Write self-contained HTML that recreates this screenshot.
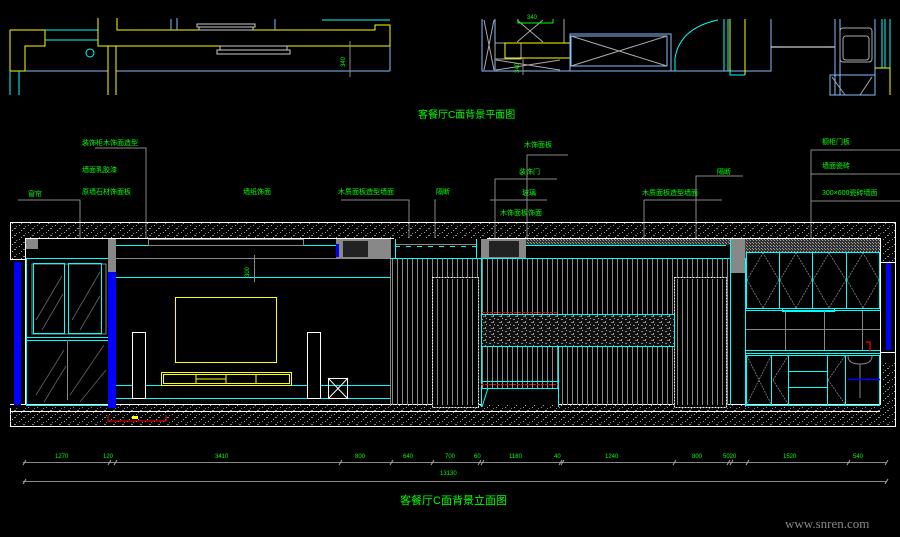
<!DOCTYPE html>
<html><head><meta charset="utf-8"><style>
html,body{margin:0;padding:0;background:#000;}
svg{display:block}
.g{fill:#00ff00;font-family:"Liberation Sans","Noto Sans CJK SC",sans-serif;font-size:7px;}
.d{fill:#00ff00;font-family:"Liberation Sans",sans-serif;font-size:6px;}
</style></head><body>
<svg width="900" height="537" viewBox="0 0 900 537" xmlns="http://www.w3.org/2000/svg">
<defs>
<pattern id="dots" width="9" height="7" patternUnits="userSpaceOnUse">
<rect x="1" y="1" width="1" height="1" fill="#999"/><rect x="5" y="4" width="2" height="1" fill="#888"/><rect x="3" y="6" width="1" height="1" fill="#aaa"/><rect x="7" y="2" width="1" height="1" fill="#777"/>
</pattern>
<pattern id="stripe" width="5" height="10" patternUnits="userSpaceOnUse">
<rect x="2" y="0" width="1" height="10" fill="#8a8a8a"/>
</pattern>
<pattern id="stone" width="8" height="6" patternUnits="userSpaceOnUse">
<rect x="0" y="0" width="8" height="6" fill="#111"/><rect x="1" y="1" width="2" height="1" fill="#888"/><rect x="5" y="3" width="1" height="2" fill="#999"/><rect x="3" y="4" width="2" height="1" fill="#777"/><rect x="6" y="0" width="1" height="1" fill="#aaa"/>
</pattern>
<pattern id="xh" width="3" height="3" patternUnits="userSpaceOnUse">
<rect width="3" height="3" fill="#333"/><rect x="0" y="0" width="1" height="1" fill="#999"/><rect x="2" y="2" width="1" height="1" fill="#999"/>
</pattern>
</defs>
<rect width="900" height="537" fill="#000"/>

<!-- top plan left -->
<g fill="none" stroke-width="1">
<polyline points="10,30 45,30 45,46 25,46 25,71 10,71 10,30" stroke="#ffff00"/>
<line x1="45" y1="30" x2="98" y2="30" stroke="#00ffff"/>
<line x1="45" y1="40" x2="98" y2="40" stroke="#00ffff"/>
<polyline points="98,18 98,46 390,46 390,25 375,25 375,30 117,30 117,18" stroke="#ffff00"/>
<line x1="322" y1="20" x2="390" y2="20" stroke="#00ffff"/>
<line x1="25" y1="71" x2="108" y2="71" stroke="#88bbff"/>
<line x1="116" y1="71" x2="390" y2="71" stroke="#88bbff"/>
<line x1="390" y1="46" x2="390" y2="71" stroke="#88bbff"/>
<line x1="108" y1="46" x2="108" y2="95" stroke="#ffff00"/>
<line x1="116" y1="46" x2="116" y2="95" stroke="#ffff00"/>
<line x1="10" y1="71" x2="10" y2="95" stroke="#00ffff"/>
<line x1="19" y1="71" x2="19" y2="95" stroke="#00ffff"/>
<line x1="171" y1="19" x2="171" y2="30" stroke="#88bbff"/><line x1="177" y1="18" x2="177" y2="30" stroke="#88bbff"/><line x1="275" y1="19" x2="275" y2="30" stroke="#88bbff"/>
<rect x="197" y="24" width="58" height="3" stroke="#ccc"/>
<rect x="199" y="27" width="54" height="3" stroke="#ccc"/>
<rect x="217" y="50" width="73" height="4" stroke="#ccc"/>
<rect x="220" y="46" width="67" height="4" stroke="#ccc"/>
<circle cx="90" cy="53" r="4" stroke="#00ffff"/>
<line x1="350" y1="41" x2="350" y2="77" stroke="#888"/>
</g>
<text class="d" transform="translate(345,67) rotate(-90)">340</text>

<!-- top plan right -->
<g fill="none" stroke-width="1">
<polyline points="482,19 482,71 771,71 771,19" stroke="#88bbff"/>
<line x1="495" y1="19" x2="495" y2="71" stroke="#88bbff"/>
<line x1="484" y1="20" x2="494" y2="70" stroke="#aaa"/><line x1="494" y1="20" x2="484" y2="70" stroke="#aaa"/>
<line x1="517" y1="20" x2="543" y2="42" stroke="#aaa"/><line x1="543" y1="20" x2="517" y2="42" stroke="#aaa"/>
<line x1="564" y1="19" x2="564" y2="43" stroke="#aaa"/>
<rect x="495" y="43" width="26" height="16" stroke="#aaa"/>
<rect x="505" y="43" width="66" height="15" stroke="#ffff00"/>
<rect x="570" y="34" width="101" height="37" stroke="#88bbff"/>
<rect x="571" y="36" width="96" height="30" stroke="#88bbff"/>
<line x1="571" y1="36" x2="667" y2="66" stroke="#aaa"/><line x1="667" y1="36" x2="571" y2="66" stroke="#aaa"/>
<line x1="496" y1="60" x2="560" y2="70" stroke="#aaa"/><line x1="496" y1="70" x2="560" y2="60" stroke="#aaa"/>
<path d="M675,58 Q680,28 718,20" stroke="#00ffff"/>
<line x1="675" y1="58" x2="675" y2="71" stroke="#00ffff"/>
<line x1="724" y1="19" x2="724" y2="71" stroke="#00ffff"/><line x1="728" y1="19" x2="728" y2="71" stroke="#00ffff"/>
<line x1="730" y1="19" x2="730" y2="75" stroke="#ffff00"/><line x1="745" y1="19" x2="745" y2="75" stroke="#ffff00"/>
<polyline points="730,71 730,75 745,75" stroke="#00ffff"/>
<line x1="771" y1="47" x2="835" y2="47" stroke="#fff"/>
<line x1="835" y1="19" x2="835" y2="95" stroke="#88bbff"/>
<line x1="840" y1="19" x2="840" y2="95" stroke="#88bbff"/>
<rect x="840" y="28" width="32" height="34" rx="3" stroke="#aaa"/>
<rect x="843" y="36" width="26" height="24" rx="3" stroke="#aaa"/>
<rect x="830" y="75" width="45" height="20" stroke="#88bbff"/>
<line x1="832" y1="77" x2="845" y2="95" stroke="#aaa"/><line x1="860" y1="95" x2="872" y2="77" stroke="#aaa"/>
<line x1="875" y1="19" x2="875" y2="95" stroke="#88bbff"/>
<line x1="882" y1="19" x2="882" y2="68" stroke="#00ffff"/><line x1="885" y1="19" x2="885" y2="68" stroke="#00ffff"/><line x1="890" y1="19" x2="890" y2="68" stroke="#00ffff"/>
<polyline points="875,68 890,68 890,95" stroke="#ffff00"/>
<polyline points="518,19 518,23 553,23 553,19" stroke="#00ff00"/>
<line x1="523" y1="57" x2="523" y2="75" stroke="#888"/>
</g>
<text class="d" x="527" y="19">340</text>
<text class="d" transform="translate(519,73) rotate(-90)">340</text>

<text x="418" y="118" style="fill:#00ff00;font-family:'Liberation Sans','Noto Sans CJK SC',sans-serif;font-size:10px;">客餐厅C面背景平面图</text>

<!-- leader labels -->
<g class="g">
<text x="82" y="145">装饰柜木饰面造型</text>
<text x="82" y="172">墙面乳胶漆</text>
<text x="82" y="194">原墙石材饰面板</text>
<text x="28" y="196">窗帘</text>
<text x="243" y="194">墙纸饰面</text>
<text x="338" y="194">木质面板造型墙面</text>
<text x="436" y="194">隔断</text>
<text x="524" y="147">木饰面板</text>
<text x="519" y="174">装饰门</text>
<text x="522" y="195">玻璃</text>
<text x="500" y="215">木饰面板饰面</text>
<text x="642" y="195">木质面板造型墙面</text>
<text x="717" y="174">隔断</text>
<text x="822" y="144">橱柜门板</text>
<text x="822" y="168">墙面瓷砖</text>
<text x="822" y="195">300×600瓷砖墙面</text>
</g>
<g fill="none" stroke="#888" stroke-width="1">
<polyline points="95,148 146,148 146,302"/>
<polyline points="18,200 80,200 80,297"/>
<polyline points="341,200 409,200 409,318"/>
<polyline points="436,200 435,200 435,330"/>
<polyline points="568,155 527,155 527,392"/>
<polyline points="557,179 495,179 495,395"/>
<polyline points="547,200 490,200"/>
<polyline points="722,200 644,200 644,300"/>
<polyline points="743,176 696,176 696,274"/>
<polyline points="900,150 811,150 811,340"/>
<line x1="811" y1="174" x2="900" y2="174"/>
<line x1="811" y1="201" x2="900" y2="201"/>
</g>

<!-- main elevation -->
<rect x="10.5" y="222.5" width="885" height="204" fill="url(#dots)" stroke="#fff"/>
<rect x="25.5" y="238.5" width="855" height="166" fill="#000" stroke="#fff"/>
<rect x="10" y="260" width="15" height="148" fill="#000"/>
<rect x="880" y="262" width="15" height="100" fill="#000"/>
<line x1="10" y1="259.5" x2="25" y2="259.5" stroke="#fff"/>
<line x1="10" y1="404.5" x2="880" y2="404.5" stroke="#fff"/>
<line x1="10" y1="411.5" x2="880" y2="411.5" stroke="#fff"/>
<rect x="10" y="412" width="871" height="14" fill="url(#dots)"/>
<line x1="10" y1="411.5" x2="880" y2="411.5" stroke="#fff"/>
<!-- left window -->
<rect x="14" y="262" width="7" height="143" fill="#0000ff"/>
<rect x="26" y="239" width="12" height="10" fill="#888"/>
<rect x="26.5" y="258.5" width="82" height="147" fill="none" stroke="#00ffff"/>
<rect x="32" y="264" width="74" height="70" fill="none" stroke="#888"/>
<rect x="33.5" y="263.5" width="31" height="70" fill="none" stroke="#00ffff"/>
<rect x="68.5" y="263.5" width="33" height="70" fill="none" stroke="#00ffff"/>
<line x1="26" y1="337.5" x2="108" y2="337.5" stroke="#00ffff"/>
<line x1="26" y1="340.5" x2="108" y2="340.5" stroke="#00ffff"/>
<line x1="67.5" y1="340" x2="67.5" y2="400" stroke="#888"/>
<g stroke="#666" stroke-width="0.8">
<line x1="36" y1="320" x2="62" y2="276"/><line x1="42" y1="330" x2="63" y2="294"/><line x1="72" y1="320" x2="100" y2="272"/><line x1="80" y1="330" x2="100" y2="296"/>
<line x1="36" y1="395" x2="64" y2="350"/><line x1="44" y1="402" x2="66" y2="366"/><line x1="70" y1="395" x2="104" y2="345"/><line x1="80" y1="402" x2="106" y2="370"/>
</g>
<rect x="108" y="239" width="8" height="33" fill="#888"/>
<rect x="108" y="272" width="8" height="136" fill="#0000ff"/>
<!-- TV wall -->
<line x1="116" y1="245.5" x2="390" y2="245.5" stroke="#00ffff"/>
<rect x="148.5" y="239.5" width="155" height="6" fill="none" stroke="#888"/>
<line x1="116" y1="258.5" x2="390" y2="258.5" stroke="#888"/>
<line x1="116" y1="277.5" x2="390" y2="277.5" stroke="#00ffff"/>
<line x1="116" y1="385.5" x2="390" y2="385.5" stroke="#00ffff"/>
<line x1="116" y1="398.5" x2="390" y2="398.5" stroke="#00ffff"/>
<rect x="336" y="239" width="55" height="19" fill="#888"/>
<rect x="343" y="241" width="25" height="16" fill="#222"/>
<rect x="336" y="244" width="3" height="13" fill="#0000ff"/>
<line x1="254.5" y1="255" x2="254.5" y2="282" stroke="#888"/>
<text class="d" transform="translate(249,277) rotate(-90)">300</text>
<rect x="175.5" y="297.5" width="101" height="65" fill="none" stroke="#ffff00"/>
<rect x="161.5" y="372.5" width="130" height="13" fill="none" stroke="#ffff00"/>
<rect x="163.5" y="374.5" width="126" height="9" fill="none" stroke="#ffff00"/>
<line x1="196" y1="374" x2="196" y2="384" stroke="#ffff00"/><line x1="226" y1="374" x2="226" y2="384" stroke="#ffff00"/><line x1="256" y1="374" x2="256" y2="384" stroke="#ffff00"/>
<line x1="196" y1="379" x2="226" y2="379" stroke="#ffff00"/>
<rect x="132.5" y="332.5" width="13" height="66" fill="#000" stroke="#fff"/>
<rect x="307.5" y="332.5" width="13" height="66" fill="#000" stroke="#fff"/>
<rect x="328.5" y="378.5" width="19" height="20" fill="none" stroke="#fff"/>
<line x1="328" y1="378" x2="348" y2="399" stroke="#fff"/><line x1="348" y1="378" x2="328" y2="399" stroke="#fff"/>
<polyline points="108,415 108,421 166,421 166,415" fill="none" stroke="#ff0000"/>
<rect x="132" y="416" width="6" height="3" fill="#ffff00"/>
<!-- stripes panel -->
<rect x="390" y="258" width="340" height="147" fill="url(#stripe)"/>
<line x1="390.5" y1="258" x2="390.5" y2="405" stroke="#888"/>
<rect x="394" y="238" width="93" height="20" fill="#000"/>
<line x1="395" y1="246.5" x2="476" y2="246.5" stroke="#00ffff" stroke-dasharray="5,6"/>
<line x1="395" y1="244.5" x2="476" y2="244.5" stroke="#888"/>
<line x1="395.5" y1="239" x2="395.5" y2="258" stroke="#00ffff"/>
<line x1="476.5" y1="239" x2="476.5" y2="258" stroke="#00ffff"/>
<rect x="481" y="239" width="45" height="19" fill="#888"/>
<rect x="489" y="241" width="30" height="16" fill="#222"/>
<rect x="526" y="239" width="204" height="6" fill="url(#xh)"/>
<line x1="526" y1="245.5" x2="726" y2="245.5" stroke="#00ffff"/>
<line x1="390" y1="258.5" x2="730" y2="258.5" stroke="#00ffff"/>
<rect x="432.5" y="277.5" width="46" height="130" fill="#000" stroke="#fff" stroke-dasharray="2,1"/>
<rect x="434" y="279" width="43" height="126" fill="url(#stripe)"/>
<rect x="674.5" y="277.5" width="52" height="130" fill="#000" stroke="#fff" stroke-dasharray="2,1"/>
<rect x="676" y="279" width="49" height="126" fill="url(#stripe)"/>
<line x1="481.5" y1="258" x2="481.5" y2="407" stroke="#00ffff"/>
<line x1="482" y1="312.5" x2="558" y2="312.5" stroke="#ff0000" stroke-dasharray="3,1"/>
<rect x="481.5" y="314.5" width="193" height="32" fill="url(#stone)" stroke="#00ffff"/>
<line x1="558.5" y1="346" x2="558.5" y2="407" stroke="#00ffff"/>
<line x1="481" y1="381.5" x2="558" y2="381.5" stroke="#00ffff"/>
<line x1="481" y1="384.5" x2="558" y2="384.5" stroke="#ff0000" stroke-dasharray="3,1"/>
<line x1="481" y1="388.5" x2="558" y2="388.5" stroke="#00ffff"/>
<rect x="482" y="389" width="76" height="16" fill="#000"/>
<line x1="488" y1="388" x2="482" y2="407" stroke="#00ffff"/>
<!-- pillar -->
<rect x="730.5" y="239" width="15" height="34" fill="#888"/>
<line x1="730.5" y1="239" x2="730.5" y2="405" stroke="#00ffff"/>
<line x1="745.5" y1="258" x2="745.5" y2="407" stroke="#00ffff"/>
<!-- kitchen -->
<rect x="746" y="239" width="134" height="13" fill="url(#xh)"/>
<g fill="none" stroke="#00ffff">
<rect x="746.5" y="252.5" width="133" height="56"/>
<line x1="779.5" y1="252" x2="779.5" y2="308"/><line x1="812.5" y1="252" x2="812.5" y2="308"/><line x1="846.5" y1="252" x2="846.5" y2="308"/>
<line x1="746" y1="310.5" x2="880" y2="310.5"/>
<rect x="782.5" y="308.5" width="52" height="3"/>
<line x1="746" y1="350.5" x2="880" y2="350.5"/>
<line x1="746" y1="353.5" x2="880" y2="353.5"/>
<rect x="746.5" y="355.5" width="133" height="50"/>
<line x1="771.5" y1="355" x2="771.5" y2="405"/><line x1="788.5" y1="355" x2="788.5" y2="405"/><line x1="827.5" y1="355" x2="827.5" y2="405"/><line x1="845.5" y1="355" x2="845.5" y2="405"/>
<line x1="788" y1="371.5" x2="827" y2="371.5"/><line x1="788" y1="387.5" x2="827" y2="387.5"/>
</g>
<g stroke="#888" stroke-width="0.8" fill="none" stroke-dasharray="2,1">
<line x1="747" y1="280" x2="763" y2="253"/><line x1="747" y1="280" x2="763" y2="308"/><line x1="779" y1="280" x2="763" y2="253"/><line x1="779" y1="280" x2="763" y2="308"/>
<line x1="780" y1="280" x2="796" y2="253"/><line x1="780" y1="280" x2="796" y2="308"/><line x1="812" y1="280" x2="796" y2="253"/><line x1="812" y1="280" x2="796" y2="308"/>
<line x1="813" y1="280" x2="829" y2="253"/><line x1="813" y1="280" x2="829" y2="308"/><line x1="846" y1="280" x2="829" y2="253"/><line x1="846" y1="280" x2="829" y2="308"/>
<line x1="847" y1="280" x2="863" y2="253"/><line x1="847" y1="280" x2="863" y2="308"/><line x1="879" y1="280" x2="863" y2="253"/><line x1="879" y1="280" x2="863" y2="308"/>
<line x1="747" y1="356" x2="771" y2="404"/><line x1="771" y1="356" x2="747" y2="404"/>
<line x1="773" y1="380" x2="788" y2="356"/><line x1="773" y1="380" x2="788" y2="404"/>
<line x1="828" y1="380" x2="845" y2="356"/><line x1="828" y1="380" x2="845" y2="404"/>
</g>
<g stroke="#888" fill="none">
<line x1="746" y1="329.5" x2="880" y2="329.5"/>
<line x1="785.5" y1="311" x2="785.5" y2="350"/><line x1="824.5" y1="311" x2="824.5" y2="350"/><line x1="862.5" y1="311" x2="862.5" y2="350"/>
<path d="M848,356 Q848,364 860,364 Q872,364 872,356"/>
<line x1="860" y1="364" x2="860" y2="398"/>
</g>
<polyline points="866,342 870,342 870,352" fill="none" stroke="#ff0000" stroke-width="1.2"/>
<line x1="848" y1="379.5" x2="880" y2="379.5" stroke="#0000ff" stroke-width="1.5"/>
<line x1="880.5" y1="260" x2="880.5" y2="362" stroke="#fff"/>
<rect x="886" y="262" width="5" height="88" fill="#0000ff"/>
<line x1="880" y1="262.5" x2="895" y2="262.5" stroke="#fff"/>
<line x1="880" y1="352.5" x2="895" y2="352.5" stroke="#fff"/>

<!-- dimensions -->
<g stroke="#888" fill="none">
<line x1="23" y1="462.5" x2="887" y2="462.5"/>
<line x1="23" y1="481.5" x2="887" y2="481.5"/>
</g>
<g stroke="#aaa" fill="none">
<path d="M23,465 l3,-5 M108,465 l3,-5 M114,465 l3,-5 M339,465 l3,-5 M390,465 l3,-5 M431,465 l3,-5 M478,465 l3,-5 M481,465 l3,-5 M559,465 l3,-5 M561,465 l3,-5 M673,465 l3,-5 M727,465 l3,-5 M730,465 l3,-5 M746,465 l3,-5 M847,465 l3,-5 M885,465 l3,-5 M23,484 l3,-5 M885,484 l3,-5"/>
</g>
<g class="d">
<text x="55" y="458">1270</text><text x="103" y="458">120</text><text x="215" y="458">3410</text>
<text x="355" y="458">800</text><text x="403" y="458">640</text><text x="445" y="458">700</text>
<text x="474" y="458">60</text><text x="509" y="458">1180</text><text x="554" y="458">40</text>
<text x="605" y="458">1240</text><text x="692" y="458">800</text><text x="723" y="458">5020</text>
<text x="783" y="458">1520</text><text x="853" y="458">540</text>
<text x="440" y="475">13130</text>
</g>
<text x="400" y="504" style="fill:#00ff00;font-family:'Liberation Sans','Noto Sans CJK SC',sans-serif;font-size:11px;">客餐厅C面背景立面图</text>
<text x="785" y="528" style="fill:#888;font-family:'Liberation Serif',serif;font-size:13px;">www.snren.com</text>
</svg>
</body></html>
